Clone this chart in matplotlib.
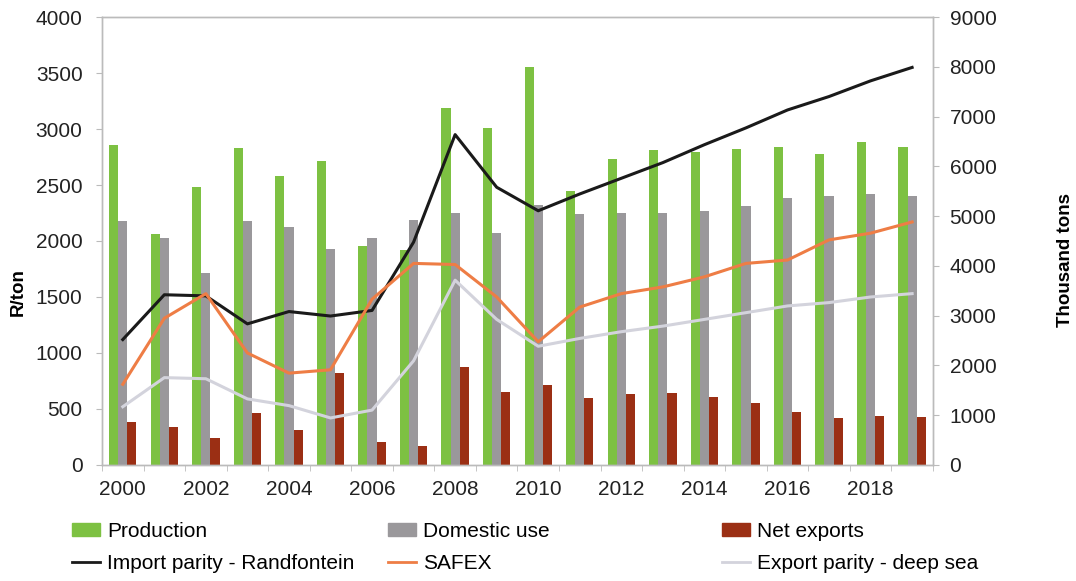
import matplotlib
matplotlib.use("Agg")
import matplotlib.pyplot as plt
import numpy as np
from matplotlib.patches import Patch
from matplotlib.lines import Line2D

plt.rcParams['font.family'] = ['Liberation Sans', 'DejaVu Sans']

years = list(range(2000, 2020))
production = [6435, 4635, 5580, 6370, 5805, 6100, 4390, 4320, 7180, 6770,
              7990, 5510, 6140, 6320, 6290, 6345, 6390, 6255, 6480, 6390]
domestic_use = [4905, 4570, 3850, 4905, 4790, 4340, 4570, 4930, 5060, 4660,
                5220, 5040, 5060, 5060, 5110, 5200, 5355, 5400, 5445, 5400]
net_exports = [855, 765, 540, 1035, 700, 1845, 470, 380, 1960, 1460,
               1600, 1350, 1420, 1440, 1370, 1240, 1060, 945, 990, 970]
import_parity = [1120, 1520, 1510, 1260, 1370, 1330, 1380, 1990, 2950, 2480,
                 2270, 2420, 2560, 2700, 2860, 3010, 3170, 3290, 3430, 3550]
safex = [720, 1310, 1530, 1000, 820, 850, 1480, 1800, 1790, 1500,
         1100, 1410, 1530, 1590, 1680, 1800, 1830, 2010, 2070, 2170]
export_parity = [520, 780, 770, 590, 530, 420, 490, 930, 1650, 1300,
                 1060, 1130, 1190, 1240, 1300, 1360, 1420, 1450, 1500, 1530]

c_green = '#7dc142'
c_gray = '#9a989b'
c_red = '#9b2f14'
c_black = '#1a1a1a'
c_orange = '#ee7d45'
c_lgray = '#d3d3dc'
FS = 15

fig = plt.figure(figsize=(10.76, 5.81), dpi=100)
ax = fig.add_axes([0.0948, 0.1997, 0.7722, 0.771])
ax2 = ax.twinx()

x = np.arange(len(years))
w = 0.22
ax2.bar(x - w, production, width=w, color=c_green, zorder=2)
ax2.bar(x, domestic_use, width=w, color=c_gray, zorder=2)
ax2.bar(x + w, net_exports, width=w, color=c_red, zorder=2)

ax.plot(x, import_parity, color=c_black, lw=2.2, zorder=3)
ax.plot(x, safex, color=c_orange, lw=2.2, zorder=3)
ax.plot(x, export_parity, color=c_lgray, lw=2.2, zorder=3)

ax.set_zorder(ax2.get_zorder() + 1)
ax.patch.set_visible(False)

ax.set_xlim(-0.5, len(years) - 0.5)
ax.set_ylim(0, 4000)
ax.set_yticks(np.arange(0, 4001, 500))
ax2.set_ylim(0, 9000)
ax2.set_yticks(np.arange(0, 9001, 1000))

ax.set_xticks(x[::2])
ax.set_xticklabels([str(y) for y in years[::2]])
ax.set_xticks(np.arange(-0.5, len(years), 1), minor=True)
ax.tick_params(axis='x', which='major', length=0, pad=11, labelsize=FS, colors='#222222')
ax.tick_params(axis='x', which='minor', length=4, color='#bbbbbb')
ax.tick_params(axis='y', length=4, pad=10, color='#bbbbbb', labelsize=FS, labelcolor='#222222')
ax2.tick_params(axis='y', length=4, pad=8, color='#bbbbbb', labelsize=FS, labelcolor='#222222')

for a in (ax, ax2):
    for s in a.spines.values():
        s.set_color('#bbbbbb')
        s.set_linewidth(1.0)

ax.set_ylabel('R/ton', fontsize=13.5, fontweight='bold', va='center', ha='center')
ax.yaxis.set_label_coords(-0.101, 0.386)
ax2.set_ylabel('Thousand tons', fontsize=13.5, fontweight='bold', va='center', ha='center')
ax2.yaxis.set_label_coords(1.159, 0.458)

legend_cols = [
    (0.0669, [Patch(color=c_green), Line2D([], [], color=c_black, lw=2)],
     ['Production', 'Import parity - Randfontein']),
    (0.3606, [Patch(color=c_gray), Line2D([], [], color=c_orange, lw=2)],
     ['Domestic use', 'SAFEX']),
    (0.6710, [Patch(color=c_red), Line2D([], [], color=c_lgray, lw=2)],
     ['Net exports', 'Export parity - deep sea']),
]
for xpos, hs, ls in legend_cols:
    fig.legend(hs, ls, ncol=1, loc='center left', bbox_to_anchor=(xpos, 0.0577),
               frameon=False, fontsize=FS, handlelength=1.35, handleheight=0.55,
               handletextpad=0.33, labelspacing=0.62, borderpad=0, borderaxespad=0)

fig.savefig('out.png', dpi=100)
